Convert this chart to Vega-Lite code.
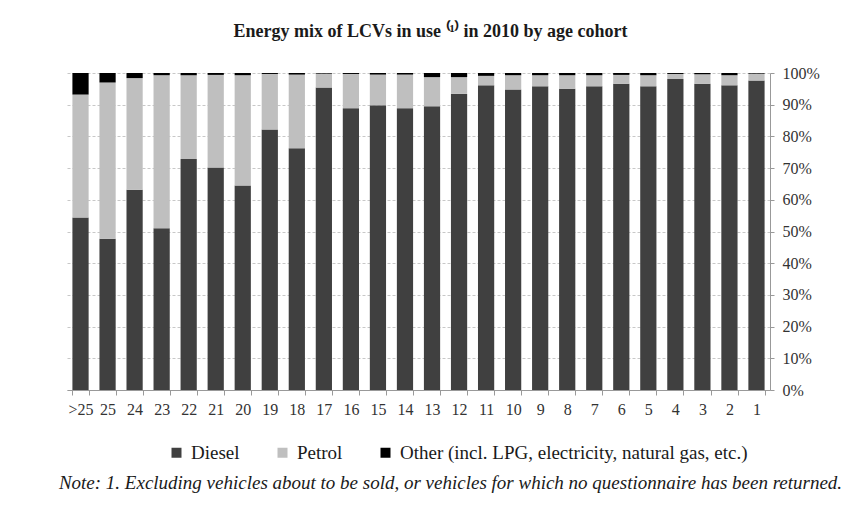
{
  "$schema": "https://vega.github.io/schema/vega-lite/v6.json",
  "autosize": "none",
  "width": 703,
  "height": 317,
  "padding": {"left": 67, "top": 73, "right": 89, "bottom": 119},
  "background": "white",
  "title": {
    "text": "Energy mix of LCVs in use ⁽¹⁾ in 2010 by age cohort",
    "font": "Liberation Serif",
    "fontSize": 18,
    "fontWeight": "bold",
    "color": "#1a1a1a",
    "anchor": "middle",
    "dx": 12,
    "offset": 24
  },
  "data": {
    "values": [
      {"age": ">25", "fuel": "Diesel", "o": 1, "share": 54.4}, {"age": ">25", "fuel": "Petrol", "o": 2, "share": 38.8}, {"age": ">25", "fuel": "Other (incl. LPG, electricity, natural gas, etc.)", "o": 3, "share": 6.8},
      {"age": "25", "fuel": "Diesel", "o": 1, "share": 47.7}, {"age": "25", "fuel": "Petrol", "o": 2, "share": 49.3}, {"age": "25", "fuel": "Other (incl. LPG, electricity, natural gas, etc.)", "o": 3, "share": 3.0},
      {"age": "24", "fuel": "Diesel", "o": 1, "share": 63.2}, {"age": "24", "fuel": "Petrol", "o": 2, "share": 35.2}, {"age": "24", "fuel": "Other (incl. LPG, electricity, natural gas, etc.)", "o": 3, "share": 1.6},
      {"age": "23", "fuel": "Diesel", "o": 1, "share": 51.0}, {"age": "23", "fuel": "Petrol", "o": 2, "share": 48.3}, {"age": "23", "fuel": "Other (incl. LPG, electricity, natural gas, etc.)", "o": 3, "share": 0.7},
      {"age": "22", "fuel": "Diesel", "o": 1, "share": 72.9}, {"age": "22", "fuel": "Petrol", "o": 2, "share": 26.4}, {"age": "22", "fuel": "Other (incl. LPG, electricity, natural gas, etc.)", "o": 3, "share": 0.7},
      {"age": "21", "fuel": "Diesel", "o": 1, "share": 70.2}, {"age": "21", "fuel": "Petrol", "o": 2, "share": 29.2}, {"age": "21", "fuel": "Other (incl. LPG, electricity, natural gas, etc.)", "o": 3, "share": 0.6},
      {"age": "20", "fuel": "Diesel", "o": 1, "share": 64.5}, {"age": "20", "fuel": "Petrol", "o": 2, "share": 34.8}, {"age": "20", "fuel": "Other (incl. LPG, electricity, natural gas, etc.)", "o": 3, "share": 0.7},
      {"age": "19", "fuel": "Diesel", "o": 1, "share": 82.2}, {"age": "19", "fuel": "Petrol", "o": 2, "share": 17.5}, {"age": "19", "fuel": "Other (incl. LPG, electricity, natural gas, etc.)", "o": 3, "share": 0.3},
      {"age": "18", "fuel": "Diesel", "o": 1, "share": 76.3}, {"age": "18", "fuel": "Petrol", "o": 2, "share": 23.2}, {"age": "18", "fuel": "Other (incl. LPG, electricity, natural gas, etc.)", "o": 3, "share": 0.5},
      {"age": "17", "fuel": "Diesel", "o": 1, "share": 95.4}, {"age": "17", "fuel": "Petrol", "o": 2, "share": 4.4}, {"age": "17", "fuel": "Other (incl. LPG, electricity, natural gas, etc.)", "o": 3, "share": 0.2},
      {"age": "16", "fuel": "Diesel", "o": 1, "share": 88.9}, {"age": "16", "fuel": "Petrol", "o": 2, "share": 10.8}, {"age": "16", "fuel": "Other (incl. LPG, electricity, natural gas, etc.)", "o": 3, "share": 0.3},
      {"age": "15", "fuel": "Diesel", "o": 1, "share": 89.8}, {"age": "15", "fuel": "Petrol", "o": 2, "share": 9.7}, {"age": "15", "fuel": "Other (incl. LPG, electricity, natural gas, etc.)", "o": 3, "share": 0.5},
      {"age": "14", "fuel": "Diesel", "o": 1, "share": 88.9}, {"age": "14", "fuel": "Petrol", "o": 2, "share": 10.6}, {"age": "14", "fuel": "Other (incl. LPG, electricity, natural gas, etc.)", "o": 3, "share": 0.5},
      {"age": "13", "fuel": "Diesel", "o": 1, "share": 89.5}, {"age": "13", "fuel": "Petrol", "o": 2, "share": 9.2}, {"age": "13", "fuel": "Other (incl. LPG, electricity, natural gas, etc.)", "o": 3, "share": 1.3},
      {"age": "12", "fuel": "Diesel", "o": 1, "share": 93.4}, {"age": "12", "fuel": "Petrol", "o": 2, "share": 5.3}, {"age": "12", "fuel": "Other (incl. LPG, electricity, natural gas, etc.)", "o": 3, "share": 1.3},
      {"age": "11", "fuel": "Diesel", "o": 1, "share": 96.1}, {"age": "11", "fuel": "Petrol", "o": 2, "share": 3.0}, {"age": "11", "fuel": "Other (incl. LPG, electricity, natural gas, etc.)", "o": 3, "share": 0.9},
      {"age": "10", "fuel": "Diesel", "o": 1, "share": 94.8}, {"age": "10", "fuel": "Petrol", "o": 2, "share": 4.5}, {"age": "10", "fuel": "Other (incl. LPG, electricity, natural gas, etc.)", "o": 3, "share": 0.7},
      {"age": "9", "fuel": "Diesel", "o": 1, "share": 95.8}, {"age": "9", "fuel": "Petrol", "o": 2, "share": 3.5}, {"age": "9", "fuel": "Other (incl. LPG, electricity, natural gas, etc.)", "o": 3, "share": 0.7},
      {"age": "8", "fuel": "Diesel", "o": 1, "share": 95.0}, {"age": "8", "fuel": "Petrol", "o": 2, "share": 4.3}, {"age": "8", "fuel": "Other (incl. LPG, electricity, natural gas, etc.)", "o": 3, "share": 0.7},
      {"age": "7", "fuel": "Diesel", "o": 1, "share": 95.8}, {"age": "7", "fuel": "Petrol", "o": 2, "share": 3.5}, {"age": "7", "fuel": "Other (incl. LPG, electricity, natural gas, etc.)", "o": 3, "share": 0.7},
      {"age": "6", "fuel": "Diesel", "o": 1, "share": 96.6}, {"age": "6", "fuel": "Petrol", "o": 2, "share": 2.8}, {"age": "6", "fuel": "Other (incl. LPG, electricity, natural gas, etc.)", "o": 3, "share": 0.6},
      {"age": "5", "fuel": "Diesel", "o": 1, "share": 95.8}, {"age": "5", "fuel": "Petrol", "o": 2, "share": 3.5}, {"age": "5", "fuel": "Other (incl. LPG, electricity, natural gas, etc.)", "o": 3, "share": 0.7},
      {"age": "4", "fuel": "Diesel", "o": 1, "share": 98.1}, {"age": "4", "fuel": "Petrol", "o": 2, "share": 1.6}, {"age": "4", "fuel": "Other (incl. LPG, electricity, natural gas, etc.)", "o": 3, "share": 0.3},
      {"age": "3", "fuel": "Diesel", "o": 1, "share": 96.6}, {"age": "3", "fuel": "Petrol", "o": 2, "share": 3.0}, {"age": "3", "fuel": "Other (incl. LPG, electricity, natural gas, etc.)", "o": 3, "share": 0.4},
      {"age": "2", "fuel": "Diesel", "o": 1, "share": 96.1}, {"age": "2", "fuel": "Petrol", "o": 2, "share": 3.2}, {"age": "2", "fuel": "Other (incl. LPG, electricity, natural gas, etc.)", "o": 3, "share": 0.7},
      {"age": "1", "fuel": "Diesel", "o": 1, "share": 97.6}, {"age": "1", "fuel": "Petrol", "o": 2, "share": 2.2}, {"age": "1", "fuel": "Other (incl. LPG, electricity, natural gas, etc.)", "o": 3, "share": 0.2}
    ]
  },
  "mark": {"type": "bar"},
  "encoding": {
    "x": {
      "field": "age",
      "type": "nominal",
      "sort": null,
      "scale": {"paddingInner": 0.4, "paddingOuter": 0.2},
      "axis": {
        "title": "Note: 1. Excluding vehicles about to be sold, or vehicles for which no questionnaire has been returned.",
        "titleFont": "Liberation Serif",
        "titleFontStyle": "italic",
        "titleFontWeight": "normal",
        "titleFontSize": 19,
        "titleColor": "#1a1a1a",
        "titleX": 383,
        "titleY": 98,
        "titleAlign": "center",
        "titleBaseline": "alphabetic",
        "labelAngle": 0,
        "labelFont": "Liberation Serif",
        "labelFontSize": 16,
        "labelColor": "#333333",
        "labelPadding": 6,
        "tickBand": "extent",
        "tickSize": 5,
        "tickColor": "#999999",
        "domainColor": "#999999",
        "grid": false
      }
    },
    "y": {
      "field": "share",
      "type": "quantitative",
      "stack": "normalize",
      "scale": {"domain": [0, 1], "nice": false},
      "axis": {
        "orient": "right",
        "title": null,
        "format": ".0%",
        "values": [0, 0.1, 0.2, 0.3, 0.4, 0.5, 0.6, 0.7, 0.8, 0.9, 1],
        "labelFont": "Liberation Serif",
        "labelFontSize": 16,
        "labelColor": "#333333",
        "labelPadding": 8,
        "tickSize": 4,
        "tickColor": "#999999",
        "domainColor": "#999999",
        "grid": true,
        "gridColor": "#c8c8c8",
        "gridDash": [3, 2]
      }
    },
    "color": {
      "field": "fuel",
      "type": "nominal",
      "scale": {
        "domain": ["Diesel", "Petrol", "Other (incl. LPG, electricity, natural gas, etc.)"],
        "range": ["#404040", "#bfbfbf", "#000000"]
      },
      "legend": {
        "title": null,
        "orient": "none",
        "direction": "horizontal",
        "legendX": 100,
        "legendY": 370,
        "symbolType": "square",
        "symbolSize": 100,
        "symbolStrokeWidth": 0,
        "labelFont": "Liberation Serif",
        "labelFontSize": 19,
        "labelColor": "#1a1a1a",
        "labelLimit": 450,
        "columnPadding": 33,
        "labelOffset": 5
      }
    },
    "order": {"field": "o", "type": "quantitative", "sort": "ascending"}
  },
  "config": {
    "font": "Liberation Serif",
    "view": {"stroke": null}
  }
}
